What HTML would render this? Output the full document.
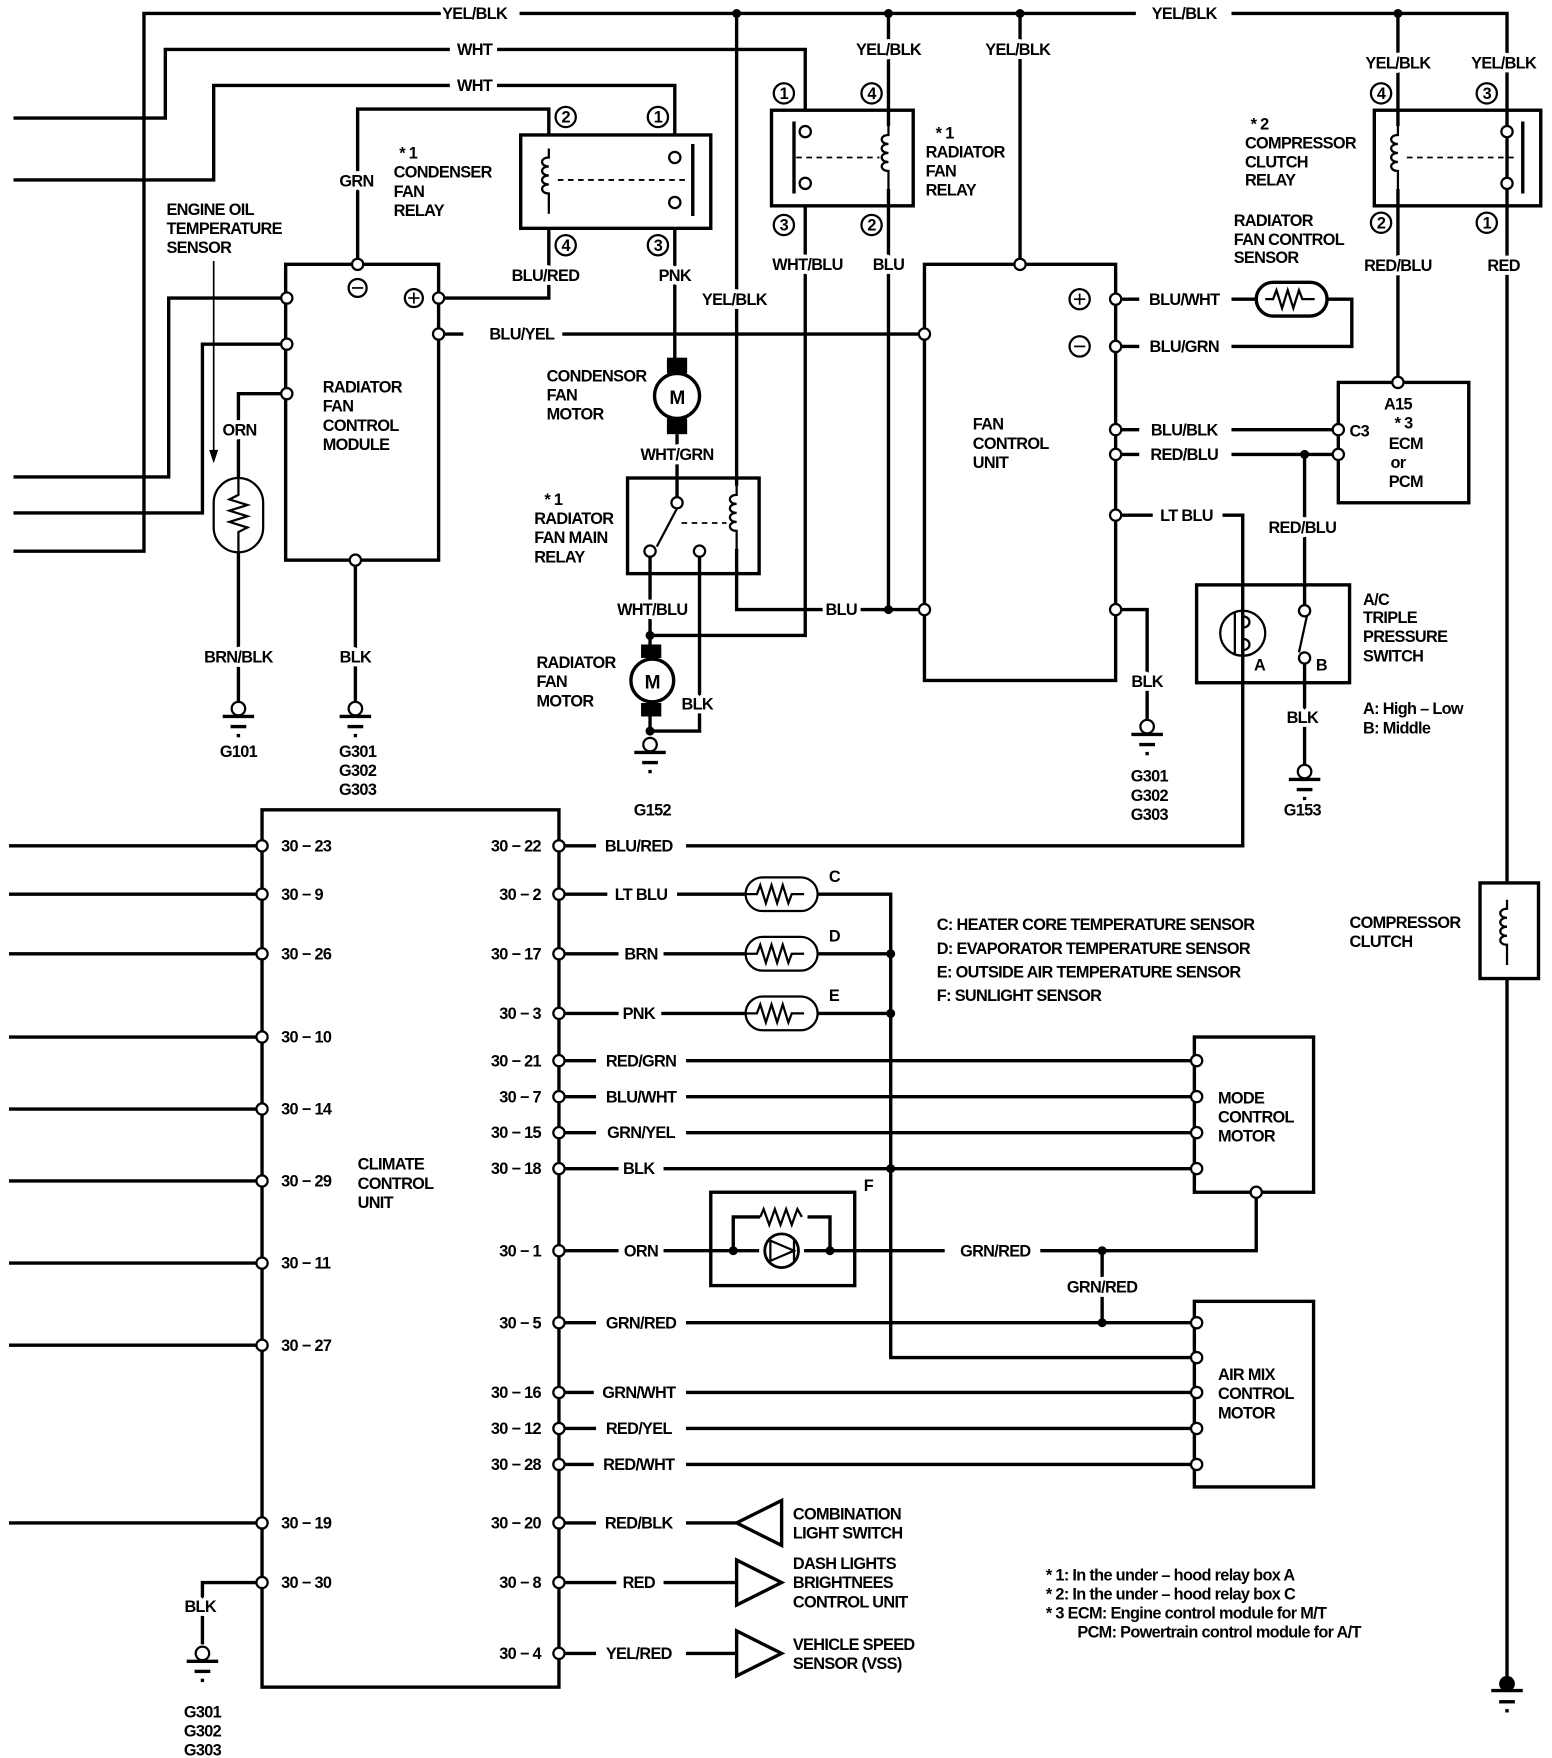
<!DOCTYPE html>
<html><head><meta charset="utf-8"><style>
html,body{margin:0;padding:0;background:#fff}
svg{display:block}
text{font-family:"Liberation Sans",sans-serif;font-weight:bold;font-size:14.5px;fill:#000;letter-spacing:-0.6px;stroke:#fff;stroke-width:7px;paint-order:stroke;stroke-linejoin:round}
.w{stroke:#000;stroke-width:3;fill:none}
.t{stroke:#000;stroke-width:2;fill:none}
.p{stroke:#000;stroke-width:2;fill:#fff}
.d{stroke:#000;stroke-width:1.6;fill:none;stroke-dasharray:5 4}
.m{text-anchor:middle}
.e{text-anchor:end}
.n{stroke:none}
</style></head><body>
<svg width="1552" height="1758" viewBox="0 0 1380 1563" preserveAspectRatio="none" xmlns="http://www.w3.org/2000/svg">
<defs>
<g id="gnd"><circle cx="0" cy="0" r="6" class="p"/><line x1="-14" y1="7" x2="14" y2="7" class="w"/><line x1="-7" y1="16" x2="7" y2="16" class="w"/><line x1="-1.5" y1="24" x2="1.5" y2="24" class="w"/></g>
<g id="coil"><path d="M0,-28 v8 c-8,0 -8,8 0,8 c-8,0 -8,8 0,8 c-8,0 -8,8 0,8 c-8,0 -8,8 0,8 v18" class="t"/></g>
<g id="res"><rect x="-32" y="-15" width="64" height="30" rx="15" class="t"/><path d="M-32,0 h10 l3,-8 l5,16 l5,-16 l5,16 l5,-16 l5,16 l3,-8 h11" class="t"/></g>
</defs>
<path class="w" d="M12,490 H128 V12 H392 M462,12 H1010 M1095,12 H1340 V785 M1340,870 V1497"/>
<circle cx="655" cy="12" r="4"/><circle cx="790" cy="12" r="4"/><circle cx="907" cy="12" r="4"/><circle cx="1243" cy="12" r="4"/>
<circle cx="1340" cy="1497" r="7"/>
<g transform="translate(1340,1503)"><line x1="-14" y1="0" x2="14" y2="0" class="w"/><line x1="-7" y1="10" x2="7" y2="10" class="w"/><line x1="-1.5" y1="18" x2="1.5" y2="18" class="w"/></g>
<rect x="1316" y="785" width="52" height="85" class="w"/>
<use href="#coil" transform="translate(1340,828)"/>
<path class="w" d="M12,105 H147 V44 H400 M442,44 H716 V98"/>
<path class="w" d="M12,160 H190 V76 H400 M442,76 H600 V120"/>
<path class="w" d="M12,424 H150 V265 H252 M12,456 H180 V306 H252"/>
<line x1="190" y1="232" x2="190" y2="405" stroke="#000" stroke-width="1.5"/><path d="M186,400 L194,400 L190,412 Z"/>
<path class="w" d="M252,350 H212 V425 M212,490 V624"/>
<rect x="190" y="425" width="44" height="66" rx="22" class="t"/>
<path class="t" d="M212,425 V440 l-8,4 l16,5 l-16,5 l16,5 l-16,5 l16,5 l-8,4 V491"/>
<use href="#gnd" transform="translate(212,630)"/>
<rect x="254" y="235" width="136" height="263" class="w"/>
<path class="w" d="M316,503 V624"/>
<path class="w" d="M318,230 V97 H488 V120"/>
<rect x="463" y="120" width="169" height="83" class="w"/>
<use href="#coil" transform="translate(488,160)"/>
<line x1="496" y1="160" x2="610" y2="160" class="d"/>
<line x1="616" y1="128" x2="616" y2="192" class="w"/>
<path class="w" d="M395,265 H488 V203"/>
<path class="w" d="M600,203 V330"/>
<path class="w" d="M395,297 H412 M500,297 H817"/>
<g class="p">
<circle cx="255" cy="265" r="5"/><circle cx="255" cy="306" r="5"/><circle cx="255" cy="350" r="5"/>
<circle cx="390" cy="265" r="5"/><circle cx="390" cy="297" r="5"/><circle cx="318" cy="235" r="5"/><circle cx="316" cy="498" r="5"/>
<circle cx="600" cy="140" r="5"/><circle cx="600" cy="180" r="5"/></g>
<circle cx="318" cy="256" r="8" class="t"/><line x1="313" y1="256" x2="323" y2="256" stroke="#000" stroke-width="1.5"/>
<circle cx="368" cy="265" r="8" class="t"/><path d="M363,265 h10 M368,260 v10" stroke="#000" stroke-width="1.5"/>
<use href="#gnd" transform="translate(316,630)"/>
<g class="t"><circle cx="503" cy="104" r="9"/><circle cx="585" cy="104" r="9"/><circle cx="503" cy="218" r="9"/><circle cx="585" cy="218" r="9"/></g>
<rect x="593" y="318" width="18" height="14"/><rect x="593" y="372" width="18" height="14"/>
<circle cx="602" cy="352" r="20" class="p" style="stroke-width:3"/>
<path class="w" d="M602,386 V442"/>
<path class="w" d="M655,12 V432 M655,488 V542 H733 M765,542 H817"/>
<circle cx="790" cy="542" r="4"/>
<rect x="558" y="425" width="117" height="85" class="w"/>
<use href="#coil" transform="translate(655,460)"/>
<path class="t" d="M602,452 L584,486"/><line x1="606" y1="465" x2="646" y2="465" class="d"/>
<path class="w" d="M578,495 V590 M578,620 V650 M622,495 V650 H578 M578,565 H716 V183"/>
<circle cx="602" cy="447" r="5" class="p"/><circle cx="578" cy="490" r="5" class="p"/><circle cx="622" cy="490" r="5" class="p"/>
<circle cx="578" cy="565" r="4"/><circle cx="578" cy="650" r="4"/>
<rect x="570" y="573" width="18" height="12"/><rect x="570" y="625" width="18" height="12"/>
<circle cx="580" cy="605" r="19" class="p" style="stroke-width:3"/>
<use href="#gnd" transform="translate(578,662)"/>
<rect x="686" y="98" width="126" height="85" class="w"/>
<line x1="706" y1="108" x2="706" y2="172" class="w"/>
<use href="#coil" transform="translate(790,140)"/>
<line x1="708" y1="140" x2="782" y2="140" class="d"/>
<path class="w" d="M790,12 V112 M790,168 V542"/>
<circle cx="716" cy="117" r="5" class="p"/><circle cx="716" cy="163" r="5" class="p"/>
<g class="t"><circle cx="697" cy="83" r="9"/><circle cx="775" cy="83" r="9"/><circle cx="697" cy="200" r="9"/><circle cx="775" cy="200" r="9"/></g>
<path class="w" d="M907,12 V230"/>
<rect x="822" y="235" width="170" height="370" class="w"/>
<path class="w" d="M997,266 H1013 M997,308 H1013 M997,382 H1013 M997,404 H1013 M997,458 H1025 M1087,458 H1105 V752 H610 M502,752 H530"/>
<path class="w" d="M1095,266 H1117 M1180,266 H1202 V308 H1095"/>
<rect x="1117" y="251" width="63" height="30" rx="15" class="w"/>
<path class="t" d="M1125,266 h7 l3,-8 l5,16 l5,-16 l5,16 l5,-16 l3,8 h11"/>
<path class="w" d="M1095,382 H1185 M1095,404 H1185 M1160,404 V538"/>
<circle cx="1160" cy="404" r="4"/>
<g class="p"><circle cx="907" cy="235" r="5"/><circle cx="822" cy="297" r="5"/><circle cx="822" cy="542" r="5"/>
<circle cx="992" cy="266" r="5"/><circle cx="992" cy="308" r="5"/><circle cx="992" cy="382" r="5"/><circle cx="992" cy="404" r="5"/><circle cx="992" cy="458" r="5"/><circle cx="992" cy="542" r="5"/></g>
<circle cx="960" cy="266" r="9" class="t"/><path d="M955,266 h10 M960,261 v10" stroke="#000" stroke-width="1.5"/>
<circle cx="960" cy="308" r="9" class="t"/><path d="M955,308 h10" stroke="#000" stroke-width="1.5"/>
<rect x="1190" y="340" width="116" height="107" class="w"/>
<rect x="1222" y="98" width="148" height="85" class="w"/>
<use href="#coil" transform="translate(1243,140)"/>
<line x1="1354" y1="108" x2="1354" y2="172" class="w"/>
<line x1="1251" y1="140" x2="1348" y2="140" class="d"/>
<path class="w" d="M1243,12 V112 M1243,168 V335"/>
<circle cx="1190" cy="382" r="5" class="p"/><circle cx="1190" cy="404" r="5" class="p"/><circle cx="1243" cy="340" r="5" class="p"/>
<circle cx="1340" cy="117" r="5" class="p"/><circle cx="1340" cy="163" r="5" class="p"/>
<g class="t"><circle cx="1228" cy="83" r="9"/><circle cx="1322" cy="83" r="9"/><circle cx="1228" cy="198" r="9"/><circle cx="1322" cy="198" r="9"/></g>
<rect x="1064" y="520" width="136" height="87" class="w"/>
<circle cx="1105" cy="563" r="20" class="t"/>
<path class="t" d="M1098,545 v36 M1105,548 c8,0 8,10 0,10 M1105,568 c8,0 8,10 0,10"/>
<path class="t" d="M1162,548 L1155,580"/>
<path class="w" d="M1160,590 V680"/>
<circle cx="1160" cy="543" r="5" class="p"/><circle cx="1160" cy="585" r="5" class="p"/>
<use href="#gnd" transform="translate(1160,686)"/>
<path class="w" d="M997,542 H1020 V640"/>
<use href="#gnd" transform="translate(1020,646)"/>
<rect x="233" y="720" width="264" height="780" class="w"/>
<path class="w" d="M8,752 H228 M8,795 H228 M8,848 H228 M8,922 H228 M8,986 H228 M8,1050 H228 M8,1123 H228 M8,1196 H228 M8,1354 H228 M228,1407 H180 V1462"/>
<path class="w" d="M502,795 H540 M602,795 H663 M727,795 H792 V1207 H1059 M502,848 H550 M590,848 H663 M727,848 H792 M502,901 H550 M588,901 H663 M727,901 H792"/>
<path class="w" d="M502,943 H530 M610,943 H1059 M502,975 H530 M610,975 H1059 M502,1007 H530 M610,1007 H1059 M502,1039 H550 M590,1039 H1059"/>
<path class="w" d="M502,1112 H550 M590,1112 H632 M760,1112 H840 M925,1112 H1117 V1065 M980,1112 V1176 M502,1176 H530 M610,1176 H1059"/>
<path class="w" d="M502,1238 H528 M610,1238 H1059 M502,1270 H530 M610,1270 H1059 M502,1302 H528 M610,1302 H1059"/>
<path class="w" d="M502,1354 H530 M610,1354 H655 M502,1407 H548 M590,1407 H655 M502,1470 H530 M610,1470 H655"/>
<g class="p">
<circle cx="233" cy="752" r="5"/><circle cx="233" cy="795" r="5"/><circle cx="233" cy="848" r="5"/><circle cx="233" cy="922" r="5"/><circle cx="233" cy="986" r="5"/><circle cx="233" cy="1050" r="5"/><circle cx="233" cy="1123" r="5"/><circle cx="233" cy="1196" r="5"/><circle cx="233" cy="1354" r="5"/><circle cx="233" cy="1407" r="5"/>
<circle cx="497" cy="752" r="5"/><circle cx="497" cy="795" r="5"/><circle cx="497" cy="848" r="5"/><circle cx="497" cy="901" r="5"/><circle cx="497" cy="943" r="5"/><circle cx="497" cy="975" r="5"/><circle cx="497" cy="1007" r="5"/><circle cx="497" cy="1039" r="5"/><circle cx="497" cy="1112" r="5"/><circle cx="497" cy="1176" r="5"/><circle cx="497" cy="1238" r="5"/><circle cx="497" cy="1270" r="5"/><circle cx="497" cy="1302" r="5"/><circle cx="497" cy="1354" r="5"/><circle cx="497" cy="1407" r="5"/><circle cx="497" cy="1470" r="5"/>
</g>
<use href="#gnd" transform="translate(180,1470)"/>
<use href="#res" transform="translate(695,795)"/><use href="#res" transform="translate(695,848)"/><use href="#res" transform="translate(695,901)"/>
<circle cx="792" cy="848" r="4"/><circle cx="792" cy="901" r="4"/><circle cx="792" cy="1039" r="4"/>
<circle cx="980" cy="1112" r="4"/><circle cx="980" cy="1176" r="4"/>
<rect x="1062" y="922" width="106" height="138" class="w"/>
<rect x="1062" y="1157" width="106" height="165" class="w"/>
<g class="p"><circle cx="1064" cy="943" r="5"/><circle cx="1064" cy="975" r="5"/><circle cx="1064" cy="1007" r="5"/><circle cx="1064" cy="1039" r="5"/><circle cx="1117" cy="1060" r="5"/>
<circle cx="1064" cy="1176" r="5"/><circle cx="1064" cy="1207" r="5"/><circle cx="1064" cy="1238" r="5"/><circle cx="1064" cy="1270" r="5"/><circle cx="1064" cy="1302" r="5"/></g>
<rect x="632" y="1060" width="128" height="83" class="w"/>
<path class="w" d="M632,1112 H675 M715,1112 H760 M652,1112 V1082 H676 M718,1082 H738 V1112"/>
<path class="t" d="M676,1082 l3,-7 l5,14 l5,-14 l5,14 l5,-14 l5,14 l5,-14 l4,7"/>
<circle cx="695" cy="1112" r="15" class="p" style="stroke-width:2.5"/>
<path class="t" d="M685,1103 L706,1112 L685,1121 Z M706,1103 V1121"/>
<circle cx="652" cy="1112" r="4"/><circle cx="738" cy="1112" r="4"/>
<path class="w" d="M655,1354 L695,1334 L695,1374 Z M655,1387 L695,1407 L655,1427 Z M655,1450 L695,1470 L655,1490 Z" style="fill:#fff"/>

<text x="422" y="17" class="m">YEL/BLK</text><text x="1053" y="17" class="m">YEL/BLK</text>
<text x="1200" y="825">COMPRESSOR</text><text x="1200" y="842">CLUTCH</text>
<text x="422" y="49" class="m">WHT</text><text x="422" y="81" class="m">WHT</text>
<text x="148" y="191">ENGINE OIL</text><text x="148" y="208">TEMPERATURE</text><text x="148" y="225">SENSOR</text>
<text x="213" y="387" class="m">ORN</text>
<text x="212" y="589" class="m">BRN/BLK</text>
<text x="212" y="673" class="m">G101</text>
<text x="287" y="349">RADIATOR</text><text x="287" y="366">FAN</text><text x="287" y="383">CONTROL</text><text x="287" y="400">MODULE</text>
<text x="316" y="589" class="m">BLK</text>
<text x="318" y="673" class="m">G301</text><text x="318" y="690" class="m">G302</text><text x="318" y="707" class="m">G303</text>
<text x="317" y="166" class="m">GRN</text>
<g style="font-size:12px"><text x="503" y="109" class="m n">2</text><text x="585" y="109" class="m n">1</text><text x="503" y="223" class="m n">4</text><text x="585" y="223" class="m n">3</text></g>
<text x="355" y="141">* 1</text><text x="350" y="158">CONDENSER</text><text x="350" y="175">FAN</text><text x="350" y="192">RELAY</text>
<text x="485" y="250" class="m">BLU/RED</text>
<text x="600" y="250" class="m">PNK</text>
<text x="464" y="302" class="m">BLU/YEL</text>
<text x="602" y="359" class="m n" style="font-size:17px">M</text>
<text x="486" y="339">CONDENSOR</text><text x="486" y="356">FAN</text><text x="486" y="373">MOTOR</text>
<text x="602" y="409" class="m">WHT/GRN</text>
<text x="653" y="271" class="m">YEL/BLK</text>
<text x="748" y="547" class="m">BLU</text>
<text x="484" y="449">* 1</text><text x="475" y="466">RADIATOR</text><text x="475" y="483">FAN MAIN</text><text x="475" y="500">RELAY</text>
<text x="580" y="547" class="m">WHT/BLU</text>
<text x="580" y="612" class="m n" style="font-size:17px">M</text>
<text x="477" y="594">RADIATOR</text><text x="477" y="611">FAN</text><text x="477" y="628">MOTOR</text>
<text x="620" y="631" class="m">BLK</text>
<text x="580" y="725" class="m">G152</text>
<text x="790" y="49" class="m">YEL/BLK</text><text x="790" y="240" class="m">BLU</text>
<text x="718" y="240" class="m">WHT/BLU</text>
<g style="font-size:12px"><text x="697" y="88" class="m n">1</text><text x="775" y="88" class="m n">4</text><text x="697" y="205" class="m n">3</text><text x="775" y="205" class="m n">2</text></g>
<text x="832" y="123">* 1</text><text x="823" y="140">RADIATOR</text><text x="823" y="157">FAN</text><text x="823" y="174">RELAY</text>
<text x="905" y="49" class="m">YEL/BLK</text>
<text x="865" y="382">FAN</text><text x="865" y="399">CONTROL</text><text x="865" y="416">UNIT</text>
<text x="1053" y="271" class="m">BLU/WHT</text><text x="1053" y="313" class="m">BLU/GRN</text>
<text x="1053" y="387" class="m">BLU/BLK</text><text x="1053" y="409" class="m">RED/BLU</text><text x="1055" y="463" class="m">LT BLU</text>
<text x="1097" y="201">RADIATOR</text><text x="1097" y="218">FAN CONTROL</text><text x="1097" y="234">SENSOR</text>
<text x="1158" y="474" class="m">RED/BLU</text>
<text x="1243" y="364" class="m">A15</text><text x="1248" y="381" class="m">* 3</text><text x="1250" y="399" class="m">ECM</text><text x="1243" y="416" class="m">or</text><text x="1250" y="433" class="m">PCM</text>
<text x="1200" y="388">C3</text>
<text x="1243" y="61" class="m">YEL/BLK</text><text x="1337" y="61" class="m">YEL/BLK</text>
<text x="1243" y="241" class="m">RED/BLU</text><text x="1337" y="241" class="m">RED</text>
<g style="font-size:12px"><text x="1228" y="88" class="m n">4</text><text x="1322" y="88" class="m n">3</text><text x="1228" y="203" class="m n">2</text><text x="1322" y="203" class="m n">1</text></g>
<text x="1112" y="115">* 2</text><text x="1107" y="132">COMPRESSOR</text><text x="1107" y="149">CLUTCH</text><text x="1107" y="165">RELAY</text>
<text x="1115" y="596" class="n">A</text><text x="1170" y="596" class="n">B</text>
<text x="1158" y="643" class="m">BLK</text>
<text x="1158" y="725" class="m">G153</text>
<text x="1212" y="538">A/C</text><text x="1212" y="554">TRIPLE</text><text x="1212" y="571">PRESSURE</text><text x="1212" y="588">SWITCH</text>
<text x="1212" y="635">A: High – Low</text><text x="1212" y="652">B: Middle</text>
<text x="1020" y="611" class="m">BLK</text>
<text x="1022" y="695" class="m">G301</text><text x="1022" y="712" class="m">G302</text><text x="1022" y="729" class="m">G303</text>
<g style="font-size:13px">
<text x="250" y="757">30 − 23</text><text x="250" y="800">30 − 9</text><text x="250" y="853">30 − 26</text><text x="250" y="927">30 − 10</text><text x="250" y="991">30 − 14</text><text x="250" y="1055">30 − 29</text><text x="250" y="1128">30 − 11</text><text x="250" y="1201">30 − 27</text><text x="250" y="1359">30 − 19</text><text x="250" y="1412">30 − 30</text>
<text x="481" y="757" class="e">30 − 22</text><text x="481" y="800" class="e">30 − 2</text><text x="481" y="853" class="e">30 − 17</text><text x="481" y="906" class="e">30 − 3</text><text x="481" y="948" class="e">30 − 21</text><text x="481" y="980" class="e">30 − 7</text><text x="481" y="1012" class="e">30 − 15</text><text x="481" y="1044" class="e">30 − 18</text><text x="481" y="1117" class="e">30 − 1</text><text x="481" y="1181" class="e">30 − 5</text><text x="481" y="1243" class="e">30 − 16</text><text x="481" y="1275" class="e">30 − 12</text><text x="481" y="1307" class="e">30 − 28</text><text x="481" y="1359" class="e">30 − 20</text><text x="481" y="1412" class="e">30 − 8</text><text x="481" y="1475" class="e">30 − 4</text>
</g>
<text x="318" y="1040">CLIMATE</text><text x="318" y="1057">CONTROL</text><text x="318" y="1074">UNIT</text>
<text x="178" y="1433" class="m">BLK</text>
<text x="180" y="1527" class="m">G301</text><text x="180" y="1544" class="m">G302</text><text x="180" y="1561" class="m">G303</text>
<text x="568" y="757" class="m">BLU/RED</text><text x="570" y="800" class="m">LT BLU</text><text x="570" y="853" class="m">BRN</text><text x="568" y="906" class="m">PNK</text>
<text x="570" y="948" class="m">RED/GRN</text><text x="570" y="980" class="m">BLU/WHT</text><text x="570" y="1012" class="m">GRN/YEL</text><text x="568" y="1044" class="m">BLK</text>
<text x="570" y="1117" class="m">ORN</text><text x="570" y="1181" class="m">GRN/RED</text><text x="568" y="1243" class="m">GRN/WHT</text><text x="568" y="1275" class="m">RED/YEL</text><text x="568" y="1307" class="m">RED/WHT</text>
<text x="568" y="1359" class="m">RED/BLK</text><text x="568" y="1412" class="m">RED</text><text x="568" y="1475" class="m">YEL/RED</text>
<text x="885" y="1117" class="m">GRN/RED</text><text x="980" y="1149" class="m">GRN/RED</text>
<text x="737" y="784">C</text><text x="737" y="837">D</text><text x="737" y="890">E</text>
<text x="833" y="827">C: HEATER CORE TEMPERATURE SENSOR</text><text x="833" y="848">D: EVAPORATOR TEMPERATURE SENSOR</text><text x="833" y="869">E: OUTSIDE AIR TEMPERATURE SENSOR</text><text x="833" y="890">F: SUNLIGHT SENSOR</text>
<text x="1083" y="981">MODE</text><text x="1083" y="998">CONTROL</text><text x="1083" y="1015">MOTOR</text>
<text x="768" y="1059">F</text>
<text x="1083" y="1227">AIR MIX</text><text x="1083" y="1244">CONTROL</text><text x="1083" y="1261">MOTOR</text>
<text x="705" y="1351">COMBINATION</text><text x="705" y="1368">LIGHT SWITCH</text>
<text x="705" y="1395">DASH LIGHTS</text><text x="705" y="1412">BRIGHTNEES</text><text x="705" y="1429">CONTROL UNIT</text>
<text x="705" y="1467">VEHICLE SPEED</text><text x="705" y="1484">SENSOR (VSS)</text>
<g style="font-size:13.5px"><text x="930" y="1405">* 1: In the under – hood relay box A</text><text x="930" y="1422">* 2: In the under – hood relay box C</text><text x="930" y="1439">* 3  ECM: Engine control module for M/T</text><text x="958" y="1456">PCM: Powertrain control module for A/T</text></g>
</svg>
</body></html>
